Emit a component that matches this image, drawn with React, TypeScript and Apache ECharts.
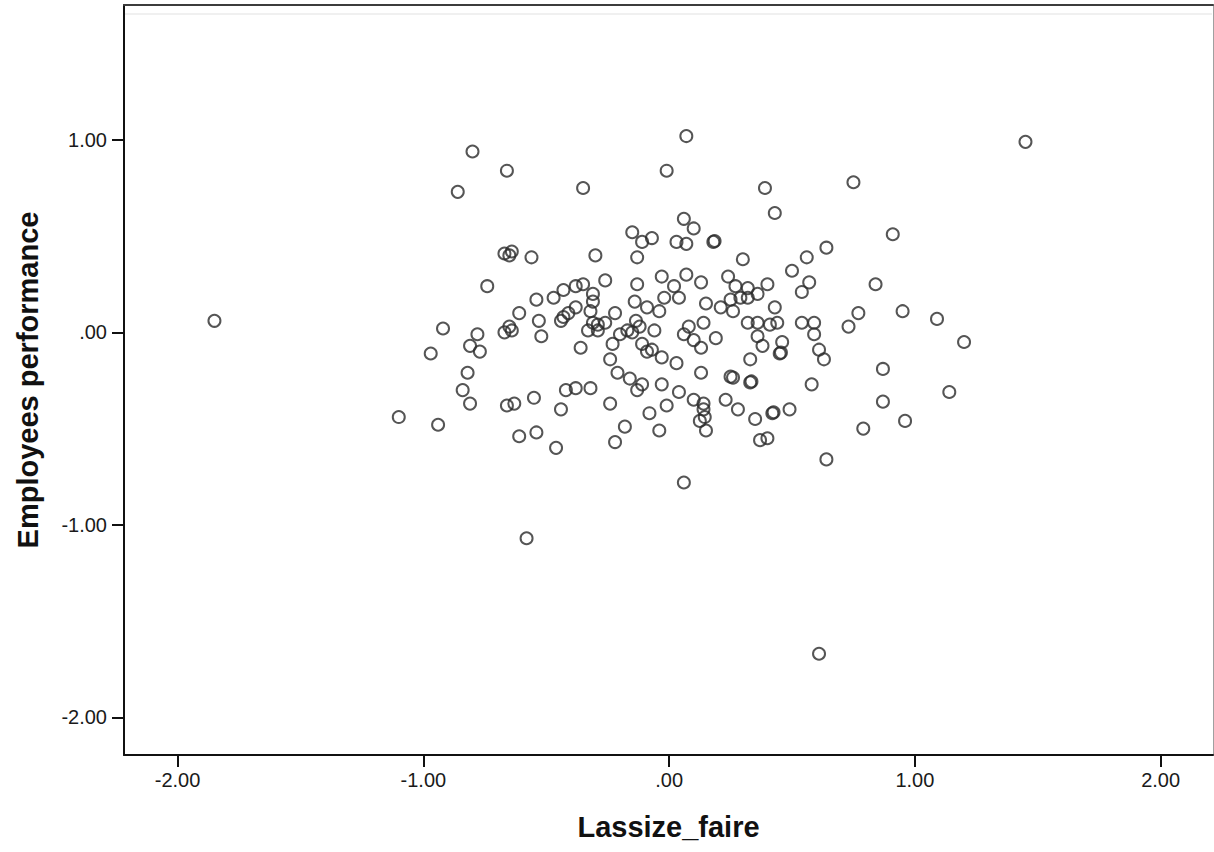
import React, { useEffect, useRef } from "react";
import * as echarts from "echarts";

const xTitle = "Lassize_faire";
const yTitle = "Employees performance";
const xTickValues = [-2, -1, 0, 1, 2];
const yTickValues = [-2, -1, 0, 1];

// Lassize_faire (x) and Employees performance (y), same order
const lassizeFaire = [
  1.45, 0.07, -0.80, -0.66, -0.86, -0.35, -0.01, 0.39, 0.75, 0.43,
  -1.85, -1.10, -0.94, -0.58, 0.06, 0.61, 0.91, 0.64, 0.84, 0.95,
  1.09, 1.20, 1.14, 0.96, 0.87, 0.87, 0.77, 0.73, 0.79, 0.64,
  0.58, 0.63,
  0.10, 0.06, 0.18, 0.185, 0.07, 0.30, 0.56, 0.50, 0.07, 0.13,
  0.24, 0.27, 0.32, 0.40, 0.57, 0.54, 0.15, 0.21, 0.25, 0.29,
  0.32, 0.36, 0.26, 0.43, 0.14, 0.08, 0.32, 0.36, 0.41, 0.44,
  0.54, 0.59, 0.06, 0.10, 0.13, 0.19, 0.36, 0.38, 0.46, 0.45,
  0.455, 0.59, 0.61, 0.33, 0.13, 0.25, 0.26, 0.33, 0.335, 0.10,
  0.14, 0.14, 0.145, 0.125, 0.15, 0.23, 0.28, 0.35, 0.42, 0.425,
  0.49, 0.37, 0.40, 0.04,
  -0.15, -0.11, -0.07, 0.03, -0.13, -0.03, -0.26, -0.13, 0.02, -0.02,
  0.04, -0.14, -0.09, -0.04, -0.22, -0.26, -0.135, -0.12, -0.17, -0.20,
  -0.15, -0.23, -0.06, -0.11, -0.09, -0.07, -0.24, -0.03, 0.03, -0.21,
  -0.16, -0.11, -0.13, -0.03, -0.24, -0.08, -0.01, -0.18, -0.04, -0.22,
  -0.67, -0.65, -0.64, -0.56, -0.30, -0.74, -0.35, -0.38, -0.43, -0.47,
  -0.54, -0.31, -0.31, -0.38, -0.32, -0.61, -0.53, -0.43, -0.41, -0.44,
  -0.31, -0.29, -0.29, -0.33, -0.65, -0.64, -0.67, -0.52, -0.92, -0.78,
  -0.81, -0.77, -0.97, -0.36, -0.82, -0.84, -0.81, -0.42, -0.38, -0.32,
  -0.55, -0.66, -0.63, -0.44, -0.54, -0.61, -0.46,
];

const employeesPerformance = [
  0.99, 1.02, 0.94, 0.84, 0.73, 0.75, 0.84, 0.75, 0.78, 0.62,
  0.06, -0.44, -0.48, -1.07, -0.78, -1.67, 0.51, 0.44, 0.25, 0.11,
  0.07, -0.05, -0.31, -0.46, -0.36, -0.19, 0.10, 0.03, -0.50, -0.66,
  -0.27, -0.14,
  0.54, 0.59, 0.47, 0.475, 0.46, 0.38, 0.39, 0.32, 0.30, 0.26,
  0.29, 0.24, 0.23, 0.25, 0.26, 0.21, 0.15, 0.13, 0.17, 0.18,
  0.18, 0.20, 0.11, 0.13, 0.05, 0.03, 0.05, 0.05, 0.04, 0.05,
  0.05, 0.05, -0.01, -0.04, -0.08, -0.03, -0.02, -0.07, -0.05, -0.11,
  -0.105, -0.01, -0.09, -0.14, -0.21, -0.23, -0.235, -0.26, -0.255, -0.35,
  -0.37, -0.40, -0.44, -0.46, -0.51, -0.35, -0.40, -0.45, -0.42, -0.415,
  -0.40, -0.56, -0.55, -0.31,
  0.52, 0.47, 0.49, 0.47, 0.39, 0.29, 0.27, 0.25, 0.24, 0.18,
  0.18, 0.16, 0.13, 0.11, 0.10, 0.05, 0.06, 0.03, 0.01, -0.01,
  0.00, -0.06, 0.01, -0.06, -0.10, -0.09, -0.14, -0.13, -0.16, -0.21,
  -0.24, -0.27, -0.30, -0.27, -0.37, -0.42, -0.38, -0.49, -0.51, -0.57,
  0.41, 0.40, 0.42, 0.39, 0.40, 0.24, 0.25, 0.24, 0.22, 0.18,
  0.17, 0.20, 0.16, 0.13, 0.11, 0.10, 0.06, 0.08, 0.10, 0.06,
  0.05, 0.04, 0.01, 0.01, 0.03, 0.01, 0.00, -0.02, 0.02, -0.01,
  -0.07, -0.10, -0.11, -0.08, -0.21, -0.30, -0.37, -0.30, -0.29, -0.29,
  -0.34, -0.38, -0.37, -0.40, -0.52, -0.54, -0.60,
];

const fmt = (v: number) => {
  const s = Math.abs(v).toFixed(2);
  const t = s.startsWith("0") ? s.slice(1) : s;
  return (v < 0 ? "-" : "") + t;
};

const FONT = "'Liberation Sans', Arial, sans-serif";

export default function App() {
  const ref = useRef<HTMLDivElement>(null);
  useEffect(() => {
    if (!ref.current) return;
    const chart = echarts.init(ref.current, null, { renderer: "svg" });
    const points = lassizeFaire.map((x, i) => [x, employeesPerformance[i]]);
    const xMin = -2.218, xMax = 2.213, yMin = -2.196, yMax = 1.701;
    chart.setOption({
      animation: false,
      backgroundColor: "#ffffff",
      grid: { left: 124, right: 1, top: 5, bottom: 97 },
      xAxis: [
        {
          type: "value",
          min: xMin,
          max: xMax,
          name: xTitle,
          nameLocation: "middle",
          nameGap: 57,
          nameTextStyle: { fontFamily: FONT, fontSize: 29, fontWeight: "bold", color: "#111" },
          axisLine: { onZero: false, lineStyle: { color: "#111", width: 2 } },
          axisTick: { show: true, length: 12, customValues: xTickValues, lineStyle: { color: "#111", width: 2 } },
          axisLabel: {
            customValues: xTickValues,
            formatter: (v: number) => fmt(v),
            margin: 15,
            fontFamily: FONT,
            fontSize: 20,
            color: "#1a1a1a",
          },
          splitLine: { show: false },
        },
        {
          type: "value",
          position: "top",
          min: xMin,
          max: xMax,
          axisLine: { onZero: false, lineStyle: { color: "#3c3c3c", width: 2 } },
          axisTick: { show: false },
          axisLabel: { show: false },
          splitLine: { show: false },
        },
      ],
      yAxis: [
        {
          type: "value",
          min: yMin,
          max: yMax,
          name: yTitle,
          nameLocation: "middle",
          nameGap: 82,
          nameTextStyle: { fontFamily: FONT, fontSize: 29, fontWeight: "bold", color: "#111" },
          axisLine: { onZero: false, lineStyle: { color: "#111", width: 2 } },
          axisTick: { show: true, length: 12, customValues: yTickValues, lineStyle: { color: "#111", width: 2 } },
          axisLabel: {
            customValues: yTickValues,
            formatter: (v: number) => fmt(v),
            margin: 17,
            fontFamily: FONT,
            fontSize: 20,
            color: "#1a1a1a",
          },
          splitLine: { show: false },
        },
        {
          type: "value",
          position: "right",
          min: yMin,
          max: yMax,
          axisLine: { onZero: false, lineStyle: { color: "#a0a0a0", width: 1 } },
          axisTick: { show: false },
          axisLabel: { show: false },
          splitLine: { show: false },
        },
      ],
      graphic: [
        {
          type: "line",
          shape: { x1: 125, y1: 14, x2: 1212, y2: 14 },
          style: { stroke: "#ebebeb", lineWidth: 1.5 },
          silent: true,
        },
      ],
      series: [
        {
          type: "scatter",
          data: points,
          symbol: "circle",
          symbolSize: 12,
          itemStyle: { color: "rgba(255,255,255,0)", borderColor: "#2a2a2a", borderWidth: 2 },
        },
      ],
    });
    return () => chart.dispose();
  }, []);
  return (
    <div
      ref={ref}
      style={{ position: "fixed", left: 0, top: 0, width: 1214, height: 852, background: "#fff" }}
    />
  );
}
